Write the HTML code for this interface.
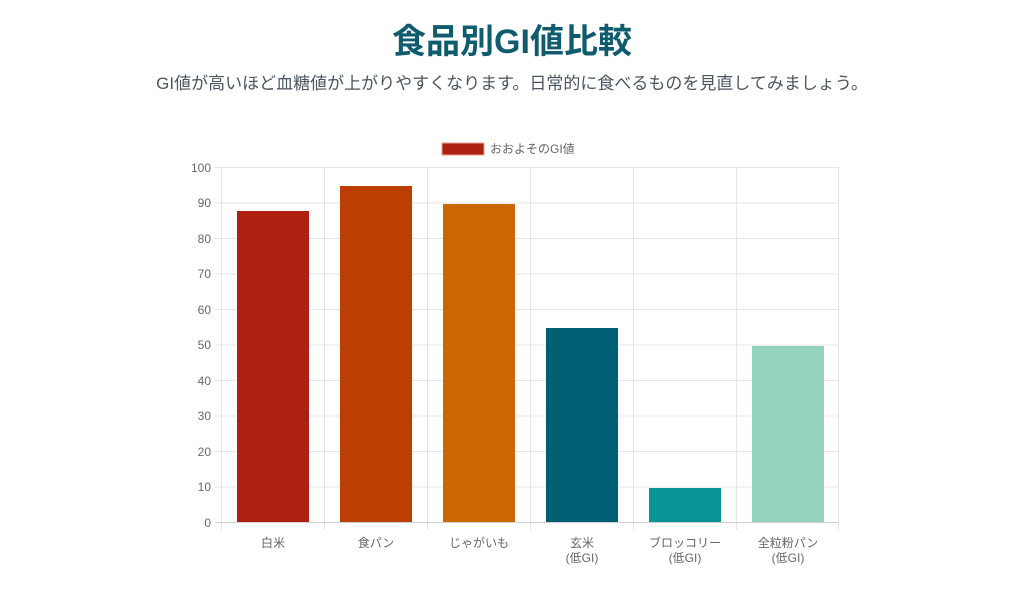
<!DOCTYPE html>
<html><head><meta charset="utf-8"><style>
body{margin:0;width:1024px;height:590px;background:#fff;font-family:"Liberation Sans","Noto Sans CJK JP",sans-serif;overflow:hidden}
h1{position:absolute;top:20px;left:0;width:1024px;margin:0;text-align:center;font-size:34px;font-weight:bold;color:#0e5c6e;line-height:44px}
p{position:absolute;top:72px;left:0;width:1024px;margin:0;text-align:center;font-size:17px;color:#4a5560;line-height:24px}
svg{position:absolute;left:0;top:0}
</style></head><body>
<h1>食品別GI値比較</h1>
<p>GI値が高いほど血糖値が上がりやすくなります。日常的に食べるものを見直してみましょう。</p>
<svg width="1024" height="590" font-family="Liberation Sans, Noto Sans CJK JP, sans-serif" font-size="12" fill="#666">
<g stroke="#e5e5e5" stroke-width="1">
<line x1="215" y1="167.5" x2="838" y2="167.5"/><line x1="215" y1="203" x2="838" y2="203"/>
<line x1="215" y1="238.5" x2="838" y2="238.5"/><line x1="215" y1="274" x2="838" y2="274"/>
<line x1="215" y1="309.5" x2="838" y2="309.5"/><line x1="215" y1="345" x2="838" y2="345"/>
<line x1="215" y1="380.5" x2="838" y2="380.5"/><line x1="215" y1="416" x2="838" y2="416"/>
<line x1="215" y1="451.5" x2="838" y2="451.5"/><line x1="215" y1="487" x2="838" y2="487"/>
<line x1="221.5" y1="167" x2="221.5" y2="530"/><line x1="324.5" y1="167" x2="324.5" y2="530"/>
<line x1="427.5" y1="167" x2="427.5" y2="530"/><line x1="530.5" y1="167" x2="530.5" y2="530"/>
<line x1="633.5" y1="167" x2="633.5" y2="530"/><line x1="736.5" y1="167" x2="736.5" y2="530"/>
<line x1="838.5" y1="167" x2="838.5" y2="530"/>
</g>
<line x1="215" y1="522.5" x2="838" y2="522.5" stroke="#d0d0d0"/>
<rect x="237" y="211" width="72" height="311" fill="#ae2012"/>
<rect x="340" y="186" width="72" height="336" fill="#bb3e03"/>
<rect x="443" y="204" width="72" height="318" fill="#ca6702"/>
<rect x="546" y="328" width="72" height="194" fill="#005f73"/>
<rect x="649" y="488" width="72" height="34" fill="#0a9396"/>
<rect x="752" y="346" width="72" height="176" fill="#94d2bd"/>
<g text-anchor="end">
<text x="211" y="172">100</text><text x="211" y="207">90</text><text x="211" y="243">80</text>
<text x="211" y="278">70</text><text x="211" y="314">60</text><text x="211" y="349">50</text>
<text x="211" y="385">40</text><text x="211" y="420">30</text><text x="211" y="456">20</text>
<text x="211" y="491">10</text><text x="211" y="527">0</text>
</g>
<g text-anchor="middle">
<text x="273" y="547">白米</text><text x="376" y="547">食パン</text><text x="479" y="547">じゃがいも</text>
<text x="582" y="547">玄米</text><text x="582" y="562">(低GI)</text>
<text x="685" y="547">ブロッコリー</text><text x="685" y="562">(低GI)</text>
<text x="788" y="547">全粒粉パン</text><text x="788" y="562">(低GI)</text>
</g>
<rect x="442" y="143" width="42" height="12" fill="#ae2012" stroke="#e8a090" stroke-width="1"/>
<text x="490" y="153">おおよそのGI値</text>
</svg>
</body></html>
